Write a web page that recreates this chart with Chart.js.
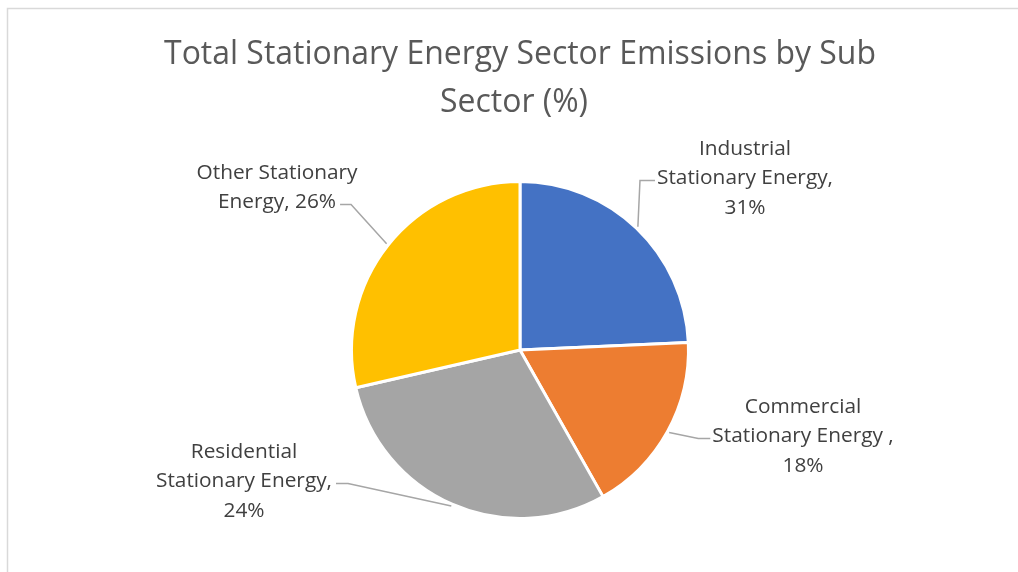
<!DOCTYPE html>
<html>
<head>
<meta charset="utf-8">
<script src="https://cdn.jsdelivr.net/npm/chart.js@4/dist/chart.umd.min.js"></script>
<style>
  html, body { margin: 0; padding: 0; background: #fff; }
  #wrap { width: 1018px; height: 572px; }
</style>
</head>
<body>
<div id="wrap"><canvas id="pieChart"></canvas></div>
<script>
// Data
const categories = ['Industrial Stationary Energy', 'Commercial Stationary Energy', 'Residential Stationary Energy', 'Other Stationary Energy'];
const sliceValues = [24.3, 17.5, 29.6, 28.6];   // slice sizes as drawn
const labelPercents = [31, 18, 24, 26];         // percentages printed on the labels
const titleLines = ['Total Stationary Energy Sector Emissions by Sub', 'Sector (%)'];

const sliceColors = ['#4472C4', '#ED7D31', '#A5A5A5', '#FFC000'];

// label text lines, as wrapped in the picture
const labelLines = [
	['Industrial', 'Stationary Energy,', labelPercents[0] + '%'],
	['Commercial', 'Stationary Energy ,', labelPercents[1] + '%'],
	['Residential', 'Stationary Energy,', labelPercents[2] + '%'],
	['Other Stationary', 'Energy, ' + labelPercents[3] + '%']
];
// label placement: offset of first line centre from pie centre, side of leader, leader line index, elbow length
const labelPlace = [
	{ dx: 225, dy: -201, side: 'left', line: 1, elbow: 15 },
	{ dx: 283, dy: 57, side: 'left', line: 1, elbow: 12 },
	{ dx: -276, dy: 102, side: 'right', line: 1, elbow: 12 },
	{ dx: -243, dy: -177, side: 'right', line: 1, elbow: 11 }
];

const fontFamily = '"Open Sans"';
const lineHeight = 29.5;

// pick a font size so a line of text has the width seen in the picture
function fitFont(ctx, text, width) {
	ctx.font = '100px ' + fontFamily;
	const size = 100 * width / ctx.measureText(text).width;
	return size.toFixed(2) + 'px ' + fontFamily;
}

const decorPlugin = {
	id: 'decor',
	beforeDraw(chart) {
		const ctx = chart.ctx;
		ctx.save();
		ctx.strokeStyle = '#D9D9D9';
		ctx.lineWidth = 1.5;
		ctx.strokeRect(7.5, 8.5, 1200, 700);
		ctx.restore();
	},
	afterDraw(chart) {
		const ctx = chart.ctx;
		const arcs = chart.getDatasetMeta(0).data;
		ctx.save();

		// title
		ctx.fillStyle = '#595959';
		ctx.font = fitFont(ctx, titleLines[0], 712);
		ctx.textAlign = 'center';
		ctx.textBaseline = 'middle';
		ctx.fillText(titleLines[0], 520, 54.5);
		ctx.fillText(titleLines[1], 514, 102.5);

		// data labels and leader lines
		const labelFont = fitFont(ctx, 'Stationary Energy,', 176);
		ctx.font = labelFont;
		arcs.forEach((arc, i) => {
			const p = labelPlace[i];
			const cx = arc.x + p.dx;
			const y0 = arc.y + p.dy;
			ctx.fillStyle = '#404040';
			labelLines[i].forEach((t, k) => ctx.fillText(t, cx, y0 + k * lineHeight));

			const mid = (arc.startAngle + arc.endAngle) / 2;
			const r = arc.outerRadius + 2;
			const ax = arc.x + Math.cos(mid) * r;
			const ay = arc.y + Math.sin(mid) * r;
			const ly = y0 + p.line * lineHeight + 2;
			const w = ctx.measureText(labelLines[i][p.line]).width;
			let ex, bx;
			if (p.side === 'left') {
				ex = cx - w / 2 - 2;
				bx = ex - p.elbow;
			} else {
				ex = cx + w / 2 + 4;
				bx = ex + p.elbow;
			}
			ctx.strokeStyle = '#A6A6A6';
			ctx.lineWidth = 1.5;
			ctx.beginPath();
			ctx.moveTo(ax, ay);
			ctx.lineTo(bx, ly);
			ctx.lineTo(ex, ly);
			ctx.stroke();
		});
		ctx.restore();
	}
};

const ctxPie = document.getElementById('pieChart').getContext('2d');
const pieChart = new Chart(ctxPie, {
	type: 'pie',
	data: {
		labels: categories,
		datasets: [{
			data: sliceValues,
			backgroundColor: sliceColors,
			borderColor: '#FFFFFF',
			borderWidth: 3
		}]
	},
	options: {
		responsive: true,
		maintainAspectRatio: false,
		animation: false,
		layout: {
			padding: { top: 180, bottom: 52, left: 40, right: 18 }
		},
		plugins: {
			legend: { display: false },
			title: { display: false },
			tooltip: { enabled: false }
		}
	},
	plugins: [decorPlugin]
});
</script>
</body>
</html>
